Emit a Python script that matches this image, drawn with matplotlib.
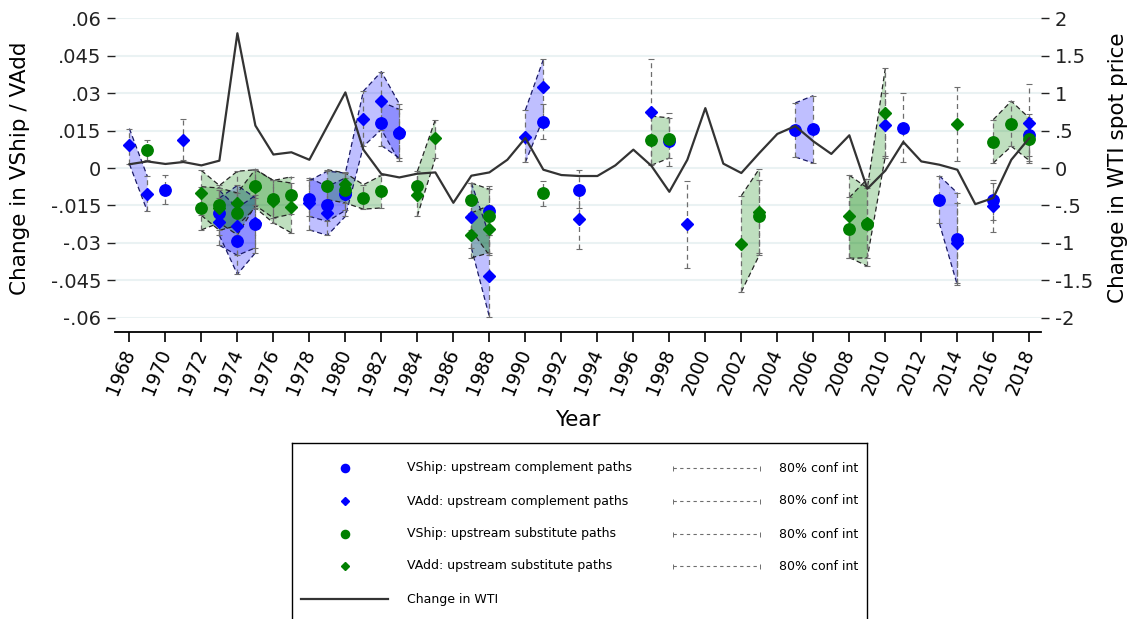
import numpy as np
import matplotlib.pyplot as plt

years = np.arange(1968, 2019)

# change in WTI spot price (right axis)
wti = [0.05, 0.088, 0.054, 0.08, 0.035, 0.098, 1.80, 0.567, 0.18, 0.21,
       0.11, 0.56, 1.01, 0.245, -0.08, -0.126, -0.076, -0.059, -0.465, -0.103,
       -0.059, 0.11, 0.40, -0.023, -0.094, -0.107, -0.107, 0.035, 0.245, 0.03,
       -0.318, 0.11, 0.80, 0.058, -0.067, 0.20, 0.455, 0.56, 0.357, 0.188,
       0.437, -0.277, -0.035, 0.348, 0.088, 0.044, -0.023, -0.483, -0.40, 0.11,
       0.40]

# VShip: upstream complement paths
vship_comp_yr = [1970, 1973, 1974, 1975, 1978, 1979, 1980, 1982, 1983, 1988,
                 1991, 1993, 1998, 2005, 2006, 2011, 2013, 2014, 2016, 2018]
vship_comp = [-0.0088, -0.0180, -0.0293, -0.0225, -0.0123, -0.0147, -0.0105, 0.0180, 0.0140, -0.0173,
              0.0186, -0.0088, 0.0110, 0.0151, 0.0157, 0.0162, -0.0127, -0.0283, -0.0127, 0.0132]
vship_comp_lo = [-0.0145, -0.0270, -0.0426, -0.0340, -0.0194, -0.0214, -0.0170, 0.0090, 0.0040, -0.0270,
                 0.0117, -0.0160, 0.0010, 0.0044, 0.0020, 0.0024, -0.0221, -0.0469, -0.0208, 0.0050]
vship_comp_hi = [-0.0030, -0.0090, -0.0160, -0.0110, -0.0040, -0.0074, -0.0040, 0.0265, 0.0235, -0.0074,
                 0.0255, -0.0007, 0.0220, 0.0261, 0.0290, 0.0299, -0.0031, -0.0100, -0.0060, 0.0215]

# VAdd: upstream complement paths
vadd_comp_yr = [1968, 1969, 1971, 1973, 1974, 1975, 1978, 1979, 1980, 1981,
                1982, 1983, 1987, 1988, 1990, 1991, 1993, 1997, 1999, 2010,
                2014, 2016, 2018]
vadd_comp = [0.0091, -0.0104, 0.0114, -0.0216, -0.0233, -0.0220, -0.0142, -0.0181, -0.0103, 0.0197,
             0.0267, 0.0145, -0.0197, -0.0433, 0.0125, 0.0326, -0.0204, 0.0224, -0.0225, 0.0172,
             -0.0301, -0.0151, 0.0179]
vadd_comp_lo = [0.0016, -0.0174, 0.0034, -0.0310, -0.0350, -0.0320, -0.0248, -0.0270, -0.0194, 0.0087,
                0.0154, 0.0027, -0.0320, -0.0596, 0.0023, 0.0200, -0.0326, 0.0015, -0.0400, 0.0040,
                -0.0462, -0.0257, 0.0020]
vadd_comp_hi = [0.0158, -0.0034, 0.0197, -0.0120, -0.0070, -0.0120, -0.0050, -0.0013, -0.0020, 0.0308,
                0.0386, 0.0257, -0.0060, -0.0270, 0.0232, 0.0435, -0.0085, 0.0435, -0.0054, 0.0300,
                -0.0140, -0.0047, 0.0338]

# VShip: upstream substitute paths
vship_sub_yr = [1969, 1972, 1973, 1974, 1975, 1976, 1977, 1979, 1980, 1981,
                1982, 1984, 1987, 1988, 1991, 1997, 1998, 2003, 2008, 2009,
                2016, 2017, 2018]
vship_sub = [0.0071, -0.0162, -0.0149, -0.0182, -0.0074, -0.0123, -0.0110, -0.0071, -0.0087, -0.0120,
             -0.0094, -0.0072, -0.0127, -0.0192, -0.0100, 0.0111, 0.0118, -0.0194, -0.0243, -0.0224,
             0.0104, 0.0178, 0.0116]
vship_sub_lo = [0.0034, -0.0248, -0.0220, -0.0268, -0.0150, -0.0200, -0.0185, -0.0127, -0.0140, -0.0165,
                -0.0160, -0.0120, -0.0250, -0.0350, -0.0154, 0.0011, 0.0040, -0.0340, -0.0359, -0.0393,
                0.0020, 0.0087, 0.0030]
vship_sub_hi = [0.0111, -0.0075, -0.0080, -0.0100, -0.0005, -0.0050, -0.0035, -0.0007, -0.0020, -0.0067,
                -0.0030, -0.0020, -0.0060, -0.0085, -0.0054, 0.0208, 0.0201, -0.0047, -0.0118, -0.0044,
                0.0194, 0.0268, 0.0200]

# VAdd: upstream substitute paths
vadd_sub_yr = [1972, 1973, 1974, 1975, 1976, 1977, 1980, 1984, 1985, 1987,
               1988, 2002, 2003, 2008, 2009, 2010, 2014]
vadd_sub = [-0.0102, -0.0160, -0.0142, -0.0075, -0.0134, -0.0157, -0.0063, -0.0110, 0.0119, -0.0268,
            -0.0244, -0.0304, -0.0177, -0.0194, -0.0222, 0.0221, 0.0176]
vadd_sub_lo = [-0.0190, -0.0250, -0.0230, -0.0160, -0.0220, -0.0260, -0.0110, -0.0192, 0.0040, -0.0360,
               -0.0340, -0.0496, -0.0349, -0.0362, -0.0360, 0.0047, 0.0027]
vadd_sub_hi = [-0.0010, -0.0070, -0.0013, -0.0007, -0.0050, -0.0060, -0.0015, -0.0013, 0.0194, -0.0180,
               -0.0150, -0.0111, -0.0003, -0.0029, -0.0080, 0.0400, 0.0326]

left_ticks = [-0.06, -0.045, -0.03, -0.015, 0, 0.015, 0.03, 0.045, 0.06]
left_labels = ['-.06', '-.045', '-.03', '-.015', '0', '.015', '.03', '.045', '.06']
right_ticks = [-2, -1.5, -1, -0.5, 0, 0.5, 1, 1.5, 2]
right_labels = ['-2', '-1.5', '-1', '-.5', '0', '.5', '1', '1.5', '2']
year_ticks = list(range(1968, 2019, 2))

series = [
    (vship_comp_yr, vship_comp, vship_comp_lo, vship_comp_hi, 'blue', 'o', 8.2,
     'VShip: upstream complement paths'),
    (vadd_comp_yr, vadd_comp, vadd_comp_lo, vadd_comp_hi, 'blue', 'D', 5.9,
     'VAdd: upstream complement paths'),
    (vship_sub_yr, vship_sub, vship_sub_lo, vship_sub_hi, 'green', 'o', 8.2,
     'VShip: upstream substitute paths'),
    (vadd_sub_yr, vadd_sub, vadd_sub_lo, vadd_sub_hi, 'green', 'D', 5.9,
     'VAdd: upstream substitute paths'),
]
edge_col = {'blue': '#1a1a66', 'green': '#262626'}


def on_grid(yrs, vals):
    out = np.full(len(years), np.nan)
    out[np.searchsorted(years, yrs)] = vals
    return out


W, H = 1135, 619
fig = plt.figure(figsize=(W / 100, H / 100), dpi=100)
ax = fig.add_axes([115 / W, 1 - 317.7 / H, 926 / W, 299.4 / H])
ax.set_xlim(1967.2, 2018.65)
ax.set_ylim(-0.06, 0.06)

# shaded confidence bands with dashed outlines
for yrs, v, lo, hi, col, mk, ms, lab in series:
    lo_g = on_grid(yrs, lo)
    hi_g = on_grid(yrs, hi)
    ax.fill_between(years, lo_g, hi_g, color=col, alpha=0.25, lw=0, zorder=2)
    for b in (lo_g, hi_g):
        ax.plot(years, b, color=edge_col[col], lw=0.9, ls=(0, (4, 2.5)), zorder=3)

# dashed range caps
for yrs, v, lo, hi, col, mk, ms, lab in series:
    v = np.array(v)
    err = [v - np.array(lo), np.array(hi) - v]
    eb = ax.errorbar(yrs, v, yerr=err, fmt='none', ecolor='#6e6e6e',
                     elinewidth=0.9, capsize=2, capthick=0.8, zorder=4)
    eb[2][0].set_linestyle((0, (4, 3)))

for yrs, v, lo, hi, col, mk, ms, lab in series:
    ax.plot(yrs, v, ls='none', marker=mk, ms=ms, color=col, mec=col, zorder=5)

ax.yaxis.grid(True, color='#eaf2f3', lw=1.5)
ax.set_axisbelow(True)
for s in ('left', 'right', 'top'):
    ax.spines[s].set_visible(False)
ax.spines['bottom'].set_position(('outward', 10.3))
ax.spines['bottom'].set_linewidth(1.3)

ax.set_xlabel('Year', fontsize=15.5, labelpad=9)
ax.set_ylabel('Change in VShip / VAdd', fontsize=15.5)
ax.yaxis.set_label_coords(-0.092, 0.5)

# WTI on the secondary axis
ax2 = ax.twinx()
ax2.plot(years, wti, color='#333333', lw=1.6)
ax2.set_ylim(-2, 2)
for s in ax2.spines.values():
    s.set_visible(False)
ax2.set_ylabel('Change in WTI spot price', fontsize=15.5)
ax2.yaxis.set_label_coords(1.0724, 0.5)

ax.set_yticks(left_ticks, left_labels)
ax2.set_yticks(right_ticks, right_labels)
ax.set_xticks(year_ticks, [str(y) for y in year_ticks])
ax.tick_params(axis='y', length=5.8, width=1, labelsize=14, pad=4, colors='#222222')
ax2.tick_params(axis='y', length=5.8, width=1, labelsize=14, pad=4, colors='#222222')
ax.tick_params(axis='x', length=7, width=1.2, labelsize=13.5, pad=6, labelrotation=68)
for t in ax.get_xticklabels():
    t.set_horizontalalignment('right')
    t.set_verticalalignment('center')
    t.set_rotation_mode('anchor')

# legend box (bottom edge runs off the figure)
lg = fig.add_axes([292 / W, 0, 575 / W, 176 / H])
lg.set_xlim(292, 867)
lg.set_ylim(619, 443)
lg.set_xticks([])
lg.set_yticks([])
lg.spines['bottom'].set_visible(False)
for s in ('left', 'right', 'top'):
    lg.spines[s].set_linewidth(1)
row_y = [468, 501, 534, 566]
for (yrs, v, lo, hi, col, mk, ms, lab), ry in zip(series, row_y):
    lg.plot([345], [ry], marker=mk, ms=ms * 0.72, color=col, ls='none')
    lg.text(407, ry, lab, fontsize=9, va='center', ha='left')
    e = lg.errorbar([716.5], [ry], xerr=[43.5], fmt='none', ecolor='#6e6e6e',
                    elinewidth=0.8, capsize=1.8, capthick=0.7)
    e[2][0].set_linestyle((0, (3, 3)))
    lg.text(779, ry, '80% conf int', fontsize=9, va='center', ha='left')
lg.plot([301, 388], [599, 599], color='#333333', lw=1.6)
lg.text(407, 599, 'Change in WTI', fontsize=9, va='center', ha='left')

fig.savefig('out.png', dpi=100)
